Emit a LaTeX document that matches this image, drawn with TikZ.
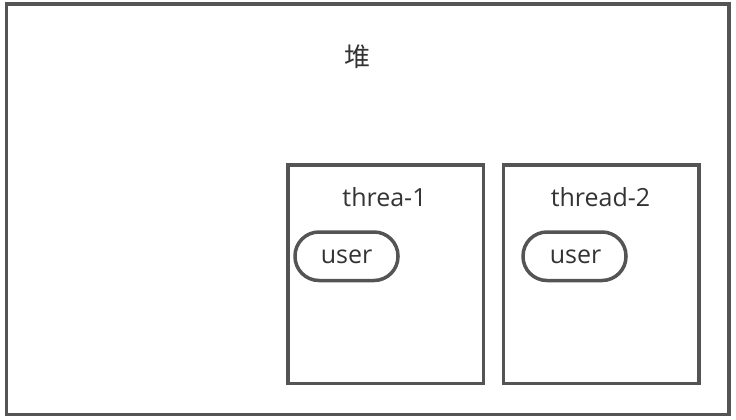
\documentclass[tikz,border=0pt]{standalone}
\usepackage{fontspec}
\setmainfont{Open Sans}
\newfontfamily\cjk{Noto Sans CJK SC}
\begin{document}
\begin{tikzpicture}[x=1pt,y=-1pt,
  frame/.style={draw=black!67,line width=3.5pt},
  lbl/.style={text=black!80,font=\fontsize{25}{28}\selectfont,inner sep=0pt},
  pill/.style={frame,rounded corners=24pt}]
\useasboundingbox (0,0) rectangle (736,420);
\draw[frame] (6.5,4) rectangle (729,414.5);
\node[lbl,font=\cjk\fontsize{26}{28}\selectfont] (heap) at (357,57) {堆};
\draw[frame] (288,165) rectangle (483.5,383.5);
\draw[frame] (503.5,165) rectangle (699,383.5);
\node[lbl] (t1) at (384.5,197) {threa-1};
\node[lbl] (t2) at (600.5,197) {thread-2};
\draw[pill] (295,232) rectangle (398,280.5);
\draw[pill] (523,232) rectangle (626,280.5);
\node[lbl] (u1) at (346.5,257) {user};
\node[lbl] (u2) at (575.5,257) {user};
\end{tikzpicture}
\end{document}
